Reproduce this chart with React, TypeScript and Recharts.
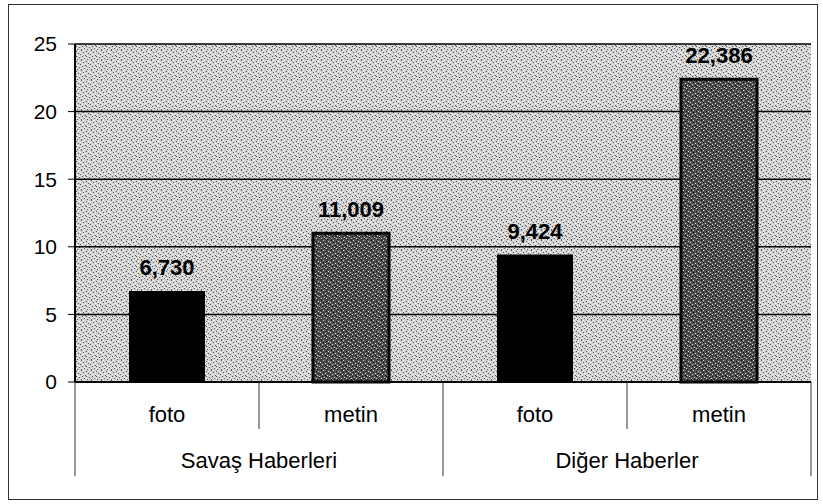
import { BarChart, Bar, XAxis, YAxis, CartesianGrid, Cell, LabelList } from "recharts";

const categories = ["foto", "metin", "foto", "metin"];
const groups = ["Savaş Haberleri", "Diğer Haberler"];
const values = [6.73, 11.009, 9.424, 22.386];
const yTicks = [0, 5, 10, 15, 20, 25];

const data = categories.map((c, i) => ({ key: `k${i}`, cat: c, value: values[i] }));

const FONT = "Arial, 'Liberation Sans', sans-serif";
const BAND = 184;

// speckle spots for the scanned texture
const darkSpots = [
  [1, 0], [6, 1], [3, 2], [8, 3], [0, 4], [5, 5], [2, 6], [9, 7], [4, 8], [7, 9], [1, 9], [6, 6],
];
const lightSpots = [
  [3, 0], [8, 1], [0, 2], [5, 3], [2, 4], [7, 5], [9, 6], [4, 7], [1, 8], [6, 8],
];

const Patterns = () => (
  <svg width={0} height={0} style={{ position: "absolute" }}>
    <defs>
      <pattern id="bgNoise" width={10} height={10} patternUnits="userSpaceOnUse">
        <rect width={10} height={10} fill="#d3d3d3" />
        {darkSpots.map(([x, y], i) => (
          <rect key={i} x={x} y={y} width={1} height={1} fill="#555" />
        ))}
        {lightSpots.map(([x, y], i) => (
          <rect key={`l${i}`} x={x} y={y} width={1} height={1} fill="#fff" />
        ))}
      </pattern>
      <pattern id="barNoise" width={10} height={10} patternUnits="userSpaceOnUse">
        <rect width={10} height={10} fill="#4f4f4f" />
        {lightSpots.map(([x, y], i) => (
          <rect key={i} x={x} y={y} width={1} height={1} fill="#d8d8d8" />
        ))}
        {darkSpots.map(([x, y], i) => (
          <rect key={`d${i}`} x={x} y={y} width={1} height={1} fill="#111" />
        ))}
      </pattern>
    </defs>
  </svg>
);

const CategoryTick = (props: any) => {
  const { x, y, index, payload } = props;
  const half = BAND / 2;
  const isGroupEnd = index % 2 === 1;
  return (
    <g>
      <text x={x} y={y + 34} textAnchor="middle" dominantBaseline="middle" fontSize={22} fontFamily={FONT} fill="#000">
        {categories[index] ?? payload.value}
      </text>
      <line x1={x + half} y1={y} x2={x + half} y2={y + (isGroupEnd ? 94 : 47)} stroke="#333" strokeWidth={1} />
      {index === 0 && <line x1={x - half} y1={y} x2={x - half} y2={y + 94} stroke="#333" strokeWidth={1} />}
      {isGroupEnd && (
        <text x={x - half} y={y + 80} textAnchor="middle" dominantBaseline="middle" fontSize={22} fontFamily={FONT} fill="#000">
          {groups[(index - 1) / 2]}
        </text>
      )}
    </g>
  );
};

export default function App() {
  return (
    <div style={{ position: "fixed", left: 0, top: 0, width: 823, height: 504, background: "#fff" }}>
      <Patterns />
      <div
        style={{
          position: "absolute",
          left: 8,
          top: 4,
          width: 810,
          height: 496,
          border: "1px solid #333",
          boxSizing: "border-box",
        }}
      />
      <div style={{ position: "absolute", left: 0, top: 0 }}>
        <BarChart width={823} height={504} data={data} margin={{ top: 44, right: 12, bottom: 0, left: 8 }}>
          <CartesianGrid vertical={false} stroke="#000" strokeWidth={1.5} fill="url(#bgNoise)" fillOpacity={1} />
          <XAxis
            dataKey="key"
            height={122}
            interval={0}
            tickLine={false}
            tickSize={0}
            tickMargin={0}
            axisLine={{ stroke: "#000", strokeWidth: 2 }}
            tick={<CategoryTick />}
          />
          <YAxis
            width={67}
            domain={[0, 25]}
            ticks={yTicks}
            interval={0}
            tickSize={7}
            tickMargin={11}
            axisLine={{ stroke: "#000", strokeWidth: 2 }}
            tickLine={{ stroke: "#000" }}
            tick={{ fill: "#000", fontSize: 21, fontFamily: FONT }}
          />
          <YAxis
            yAxisId="right"
            orientation="right"
            width={0}
            domain={[0, 25]}
            tick={false}
            tickLine={false}
            axisLine={{ stroke: "#000", strokeWidth: 2 }}
          />
          <Bar dataKey="value" barSize={76} isAnimationActive={false}>
            {data.map((d) => (
              <Cell
                key={d.key}
                fill={d.cat === "foto" ? "#000" : "url(#barNoise)"}
                stroke="#000"
                strokeWidth={d.cat === "foto" ? 0 : 3}
              />
            ))}
            <LabelList
              dataKey="value"
              position="top"
              offset={16}
              formatter={(v: any) => Number(v).toFixed(3).replace(".", ",")}
              fill="#000"
              fontSize={22}
              fontWeight="bold"
              fontFamily={FONT}
            />
          </Bar>
        </BarChart>
      </div>
    </div>
  );
}
